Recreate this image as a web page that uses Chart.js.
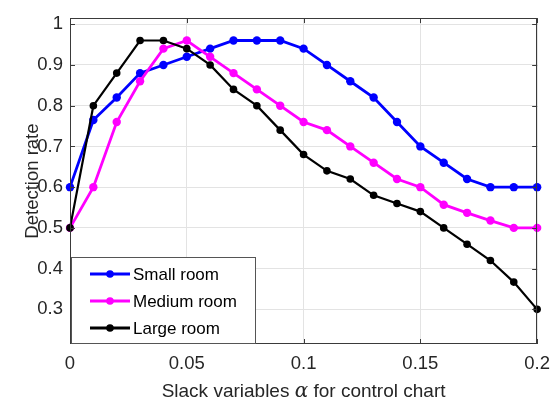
<!DOCTYPE html>
<html>
<head>
<meta charset="utf-8">
<script src="https://cdn.jsdelivr.net/npm/chart.js@4.4.1/dist/chart.umd.min.js"></script>
<style>
  html, body { margin: 0; padding: 0; background: #fff; }
  #wrap { width: 559px; height: 402px; position: relative; }
</style>
</head>
<body>
<div id="wrap"><canvas id="c"></canvas></div>
<script>
// ---- Data ----
const alphaValues = [0, 0.01, 0.02, 0.03, 0.04, 0.05, 0.06, 0.07, 0.08, 0.09, 0.10,
                     0.11, 0.12, 0.13, 0.14, 0.15, 0.16, 0.17, 0.18, 0.19, 0.20];
const smallRoom  = [0.60, 0.765, 0.82, 0.88, 0.90, 0.92, 0.94, 0.96, 0.96, 0.96, 0.94,
                    0.90, 0.86, 0.82, 0.76, 0.70, 0.66, 0.62, 0.60, 0.60, 0.60];
const mediumRoom = [0.50, 0.60, 0.76, 0.86, 0.94, 0.96, 0.92, 0.88, 0.84, 0.80, 0.76,
                    0.74, 0.70, 0.66, 0.62, 0.60, 0.557, 0.537, 0.518, 0.50, 0.50];
const largeRoom  = [0.50, 0.80, 0.88, 0.96, 0.96, 0.94, 0.90, 0.84, 0.80, 0.74, 0.68,
                    0.64, 0.62, 0.58, 0.56, 0.54, 0.50, 0.46, 0.42, 0.367, 0.30];
const seriesNames = ['Small room', 'Medium room', 'Large room'];
const xTickValues = [0, 0.05, 0.1, 0.15, 0.2];
const xTickLabels = ['0', '0.05', '0.1', '0.15', '0.2'];
const yTickValues = [0.3, 0.4, 0.5, 0.6, 0.7, 0.8, 0.9, 1.0];
const yTickLabels = ['0.3', '0.4', '0.5', '0.6', '0.7', '0.8', '0.9', '1'];
const xTitle = ['Slack variables ', 'α', ' for control chart'];
const yTitle = 'Detection rate';

const FONT = '"Liberation Sans", Arial, Helvetica, sans-serif';
const AXIS_COLOR = '#3a3a3a';

function pts(ys) { return alphaValues.map((x, i) => ({ x: x, y: ys[i] })); }

const colors = ['#0000ff', '#ff00ff', '#000000'];
const widths = [2.8, 2.8, 2.2];
const radii  = [4.2, 4.2, 3.8];
const seriesData = [smallRoom, mediumRoom, largeRoom];

const datasets = seriesData.map((d, i) => ({
  label: seriesNames[i],
  data: pts(d),
  borderColor: colors[i],
  backgroundColor: colors[i],
  pointBackgroundColor: colors[i],
  pointBorderColor: colors[i],
  borderWidth: widths[i],
  pointRadius: radii[i],
  pointBorderWidth: 0,
  pointHoverRadius: radii[i],
  tension: 0,
  clip: false,
  order: 2 - i
}));

const decorPlugin = {
  id: 'decor',
  afterDraw(chart) {
    const ctx = chart.ctx;
    const a = chart.chartArea;
    const xs = chart.scales.x, ys = chart.scales.y;
    ctx.save();
    // box
    ctx.strokeStyle = AXIS_COLOR;
    ctx.lineWidth = 1;
    ctx.strokeRect(Math.round(a.left) + 0.5, Math.round(a.top) + 0.5,
                   Math.round(a.right - a.left) - 1, Math.round(a.bottom - a.top) - 1);
    // inward ticks
    const tl = 5;
    ctx.beginPath();
    xTickValues.forEach(v => {
      const px = Math.round(xs.getPixelForValue(v)) + 0.5;
      ctx.moveTo(px, a.bottom); ctx.lineTo(px, a.bottom - tl);
      ctx.moveTo(px, a.top); ctx.lineTo(px, a.top + tl);
    });
    yTickValues.forEach(v => {
      const py = Math.round(ys.getPixelForValue(v)) + 0.5;
      ctx.moveTo(a.left, py); ctx.lineTo(a.left + tl, py);
      ctx.moveTo(a.right, py); ctx.lineTo(a.right - tl, py);
    });
    ctx.stroke();

    // legend
    const lx = 71, ly = 257, lw = 185, lh = 87;
    ctx.fillStyle = '#ffffff';
    ctx.fillRect(lx, ly, lw, lh);
    ctx.strokeStyle = '#555555';
    ctx.lineWidth = 1;
    ctx.strokeRect(lx + 0.5, ly + 0.5, lw - 1, lh - 1);
    const rowY = [274, 301, 328];
    chart.data.datasets.forEach((ds, i) => {
      const y = rowY[i];
      ctx.strokeStyle = ds.borderColor;
      ctx.lineWidth = 2.8;
      ctx.beginPath();
      ctx.moveTo(90, y); ctx.lineTo(130, y);
      ctx.stroke();
      ctx.fillStyle = ds.borderColor;
      ctx.beginPath();
      ctx.arc(110, y, 3.8, 0, Math.PI * 2);
      ctx.fill();
      ctx.fillStyle = '#000';
      ctx.font = '17px ' + FONT;
      ctx.textAlign = 'left';
      ctx.textBaseline = 'middle';
      ctx.fillText(ds.label, 133, y + 1);
    });

    // x title with italic alpha
    ctx.fillStyle = '#262626';
    ctx.textBaseline = 'alphabetic';
    const normal = '19px ' + FONT;
    const ital = 'italic 20px "DejaVu Serif", serif';
    ctx.font = normal; const w0 = ctx.measureText(xTitle[0]).width;
    ctx.font = ital;   const w1 = ctx.measureText(xTitle[1]).width;
    ctx.font = normal; const w2 = ctx.measureText(xTitle[2]).width;
    let sx = (a.left + a.right) / 2 - (w0 + w1 + w2) / 2;
    const by = 396.5;
    ctx.textAlign = 'left';
    ctx.font = normal; ctx.fillText(xTitle[0], sx, by); sx += w0;
    ctx.font = ital;   ctx.fillText(xTitle[1], sx, by); sx += w1;
    ctx.font = normal; ctx.fillText(xTitle[2], sx, by);

    // y title
    ctx.save();
    ctx.translate(38, (a.top + a.bottom) / 2);
    ctx.rotate(-Math.PI / 2);
    ctx.textAlign = 'center';
    ctx.textBaseline = 'alphabetic';
    ctx.font = '18.5px ' + FONT;
    ctx.fillText(yTitle, 0, 0);
    ctx.restore();

    ctx.restore();
  }
};

new Chart(document.getElementById('c'), {
  type: 'line',
  data: { datasets: datasets },
  options: {
    responsive: true,
    maintainAspectRatio: false,
    animation: false,
    events: [],
    layout: { padding: { left: 0, right: 19, top: 5, bottom: 0 } },
    plugins: { legend: { display: false }, tooltip: { enabled: false } },
    scales: {
      x: {
        type: 'linear',
        min: 0, max: 0.2,
        afterFit(s) { s.height = 58; },
        afterBuildTicks(s) { s.ticks = xTickValues.map(v => ({ value: v })); },
        ticks: {
          autoSkip: false, maxRotation: 0,
          padding: 9,
          color: '#262626',
          font: { family: FONT, size: 18.5 },
          callback: (v) => { const i = xTickValues.findIndex(t => Math.abs(t - v) < 1e-9); return i >= 0 ? xTickLabels[i] : ''; }
        },
        grid: { color: '#e3e3e3', lineWidth: 1, drawTicks: false },
        border: { display: false }
      },
      y: {
        type: 'linear',
        min: 0.215, max: 1.015,
        afterFit(s) { s.width = 70; },
        afterBuildTicks(s) { s.ticks = yTickValues.map(v => ({ value: v })); },
        ticks: {
          autoSkip: false,
          padding: 7,
          color: '#262626',
          font: { family: FONT, size: 18.5 },
          callback: (v) => { const i = yTickValues.findIndex(t => Math.abs(t - v) < 1e-9); return i >= 0 ? yTickLabels[i] : ''; }
        },
        grid: { color: '#e3e3e3', lineWidth: 1, drawTicks: false },
        border: { display: false }
      }
    }
  },
  plugins: [decorPlugin]
});
</script>
</body>
</html>
